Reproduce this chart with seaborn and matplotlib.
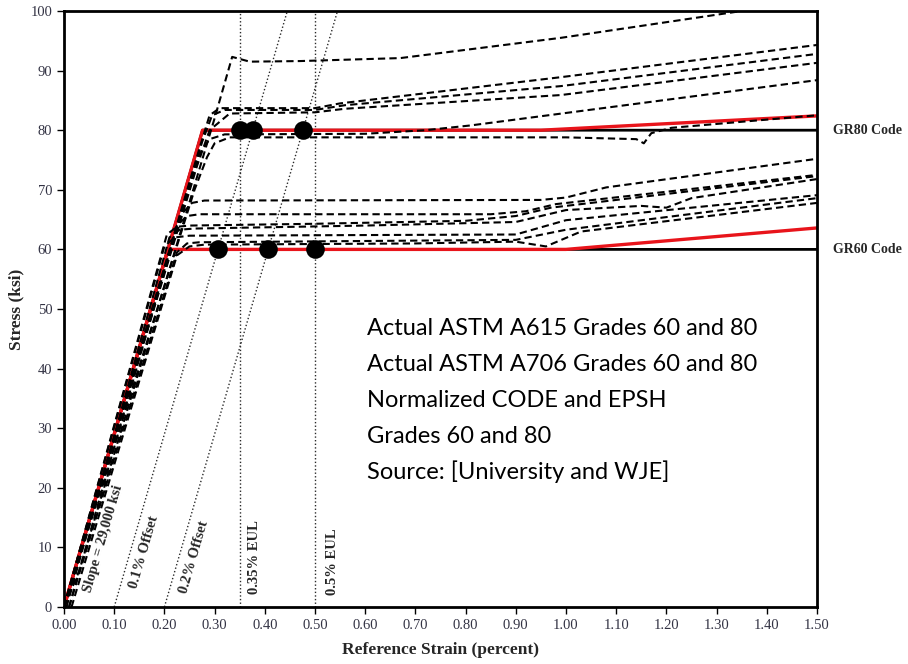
import numpy as np
import pandas as pd
import matplotlib
matplotlib.use("Agg")
import matplotlib.pyplot as plt
import seaborn as sns

sns.set_theme(style="white")
plt.rcParams["font.family"] = ["Liberation Serif", "DejaVu Serif"]

# ---- measured stress-strain curves (strain in percent, stress in ksi) ----
a_strain = [0, 0.03, 0.30, 0.335, 0.37, 0.47, 0.67, 0.99, 1.35]
a_stress = [0, 6.0, 82.0, 92.3, 91.5, 91.6, 92.1, 95.5, 100.0]

b1_strain = [0, 0.27, 0.29, 0.31, 0.50, 0.55, 0.99, 1.50]
b1_stress = [0, 77.0, 82.5, 83.7, 83.7, 84.5, 88.9, 94.3]
b2_strain = [0, 0.275, 0.295, 0.32, 0.50, 0.56, 0.99, 1.50]
b2_stress = [0, 78.0, 82.5, 83.4, 83.4, 84.2, 87.4, 92.8]
b3_strain = [0, 0.265, 0.29, 0.33, 0.50, 0.56, 0.99, 1.50]
b3_stress = [0, 74.0, 80.0, 82.8, 83.0, 83.6, 85.9, 91.3]

c_strain = [0, 0.27, 0.29, 0.32, 0.60, 0.72, 0.81, 1.50]
c_stress = [0, 76.0, 78.5, 79.3, 79.4, 80.0, 80.8, 88.4]

d_strain = [0, 0.26, 0.285, 0.30, 0.33, 1.00, 1.14, 1.155, 1.17, 1.21, 1.50]
d_stress = [0, 70.0, 75.5, 77.8, 78.8, 78.8, 78.5, 77.8, 79.5, 80.4, 82.5]

l1_strain = [0, 0.235, 0.255, 0.28, 0.95, 1.00, 1.08, 1.50]
l1_stress = [0, 66.0, 67.8, 68.2, 68.3, 68.7, 70.4, 75.2]
l2_strain = [0.01, 0.225, 0.245, 0.27, 0.85, 0.92, 0.98, 1.50]
l2_stress = [0, 64.0, 65.6, 65.9, 65.9, 66.4, 67.6, 72.5]
l3_strain = [0, 0.205, 0.225, 0.25, 0.50, 0.80, 0.90, 0.97, 1.50]
l3_stress = [0, 62.5, 63.8, 64.0, 64.3, 64.8, 65.6, 67.0, 72.3]
l4_strain = [0.005, 0.21, 0.23, 0.26, 0.60, 0.90, 1.00, 1.15, 1.20, 1.25, 1.50]
l4_stress = [0, 62.0, 63.3, 63.5, 64.0, 64.6, 66.6, 67.3, 67.0, 68.6, 71.8]
l5_strain = [0, 0.20, 0.22, 0.25, 0.90, 1.00, 1.50]
l5_stress = [0, 60.5, 62.0, 62.3, 62.5, 64.9, 69.1]
l6_strain = [0.01, 0.225, 0.245, 0.27, 0.90, 1.00, 1.50]
l6_stress = [0, 59.5, 61.0, 61.2, 61.6, 63.3, 68.6]
l7_strain = [0.015, 0.225, 0.25, 0.28, 0.70, 0.90, 0.96, 1.03, 1.50]
l7_stress = [0, 59.0, 60.5, 60.8, 61.0, 61.3, 60.5, 63.0, 67.8]

specimens = {
    "A": (a_strain, a_stress), "B1": (b1_strain, b1_stress),
    "B2": (b2_strain, b2_stress), "B3": (b3_strain, b3_stress),
    "C": (c_strain, c_stress), "D": (d_strain, d_stress),
    "L1": (l1_strain, l1_stress), "L2": (l2_strain, l2_stress),
    "L3": (l3_strain, l3_stress), "L4": (l4_strain, l4_stress),
    "L5": (l5_strain, l5_stress), "L6": (l6_strain, l6_stress),
    "L7": (l7_strain, l7_stress),
}

# ---- code (elastic-perfectly-plastic) and normalized curves ----
code80_strain = [0, 0.276, 1.50]
code80_stress = [0, 80, 80]
code60_strain = [0, 0.207, 1.50]
code60_stress = [0, 60, 60]
norm80_strain = [0, 0.276, 0.95, 1.50]
norm80_stress = [0, 80, 80, 82.4]
norm60_strain = [0, 0.207, 1.00, 1.50]
norm60_stress = [0, 60, 60, 63.6]

# yield points from offset / extension-under-load methods
dot_strain = [0.350, 0.376, 0.476, 0.307, 0.407, 0.500]
dot_stress = [80, 80, 80, 60, 60, 60]

# reference construction lines
modulus = 290.0          # ksi per percent strain (29,000 ksi)
offsets = [0.10, 0.20]
eul_strains = [0.35, 0.50]

x_ticks = [round(0.1 * i, 2) for i in range(16)]
y_ticks = list(range(0, 101, 10))

note_lines = ["Actual ASTM A615 Grades 60 and 80",
              "Actual ASTM A706 Grades 60 and 80",
              "Normalized CODE and EPSH",
              "Grades 60 and 80",
              "Source: [University and WJE]"]

rows = []
for name, (s, f) in specimens.items():
    for i, (xv, yv) in enumerate(zip(s, f)):
        rows.append({"specimen": name, "order": i, "strain": xv, "stress": yv})
df = pd.DataFrame(rows)

fig = plt.figure(figsize=(9.08, 6.64), dpi=100)
ax = fig.add_axes([64 / 908, 1 - 607 / 664, 753 / 908, 596 / 664])
ax.set_xlim(0, 1.5)
ax.set_ylim(0, 100)

dot_style = dict(color="#2a2a2a", lw=1.0, linestyle=(0, (1, 1.6)), legend=False,
                 sort=False, estimator=None)
# dotted construction lines
for off in offsets:
    sns.lineplot(x=[off, off + 100 / modulus], y=[0, 100], ax=ax, **dot_style)
for e in eul_strains:
    sns.lineplot(x=[e, e], y=[0, 100], ax=ax, **dot_style)

# code lines
for s, f in [(code80_strain, code80_stress), (code60_strain, code60_stress)]:
    sns.lineplot(x=s, y=f, ax=ax, color="black", lw=2.0, legend=False,
                 sort=False, estimator=None)
for s, f in [(norm80_strain, norm80_stress), (norm60_strain, norm60_stress)]:
    sns.lineplot(x=s, y=f, ax=ax, color="#e8141b", lw=2.4, legend=False,
                 sort=False, estimator=None)

# test curves
sns.lineplot(data=df, x="strain", y="stress", units="specimen", estimator=None,
             sort=False, color="black", lw=1.5, linestyle=(0, (3.5, 2)),
             ax=ax, legend=False)

sns.scatterplot(x=dot_strain, y=dot_stress, ax=ax, color="black", s=180,
                edgecolor="black", linewidth=0, zorder=5, legend=False)

# axes styling
ax.set_xticks(x_ticks)
ax.set_xticklabels([f"{v:.2f}" for v in x_ticks])
ax.set_yticks(y_ticks)
ax.set_yticklabels([str(v) for v in y_ticks])
ax.tick_params(axis="both", direction="out", length=5, width=1, color="black",
               labelsize=10.5, labelcolor="#333344", left=True, bottom=True)
for sp in ax.spines.values():
    sp.set_color("black")
    sp.set_linewidth(2)

ax.set_xlabel("Reference Strain (percent)", fontsize=12.5, fontweight="bold")
ax.set_ylabel("Stress (ksi)", fontsize=12.5, fontweight="bold")
ax.xaxis.set_label_coords(0.5, -0.058)
ax.yaxis.set_label_coords(-0.052, 0.5)

# code labels outside the frame
ax.text(1.532, 80, "GR80 Code", fontsize=10, fontweight="bold", va="center",
        ha="left", clip_on=False)
ax.text(1.532, 60, "GR60 Code", fontsize=10, fontweight="bold", va="center",
        ha="left", clip_on=False)

# rotated annotations along construction lines
p0 = ax.transData.transform((0, 0))
p1 = ax.transData.transform((100 / modulus, 100))
slope_angle = np.degrees(np.arctan2(p1[1] - p0[1], p1[0] - p0[0]))
rot_kw = dict(fontsize=10.5, fontweight="bold", ha="center", va="center",
              rotation_mode="anchor")
ax.text(0.078, 11.4, "Slope = 29,000 ksi", rotation=slope_angle, **rot_kw)
ax.text(0.159, 9.2, "0.1% Offset", rotation=slope_angle, **rot_kw)
ax.text(0.259, 8.4, "0.2% Offset", rotation=slope_angle, **rot_kw)
ax.text(0.380, 8.4, "0.35% EUL", rotation=90, **rot_kw)
ax.text(0.534, 7.6, "0.5% EUL", rotation=90, **rot_kw)

# description block
for i, line in enumerate(note_lines):
    ax.text(0.604, 46.8 - i * 6.04, line, fontsize=17, family=["Lato", "DejaVu Sans"],
            ha="left", va="center", color="black")

fig.savefig("out.png", dpi=100, facecolor="white")
